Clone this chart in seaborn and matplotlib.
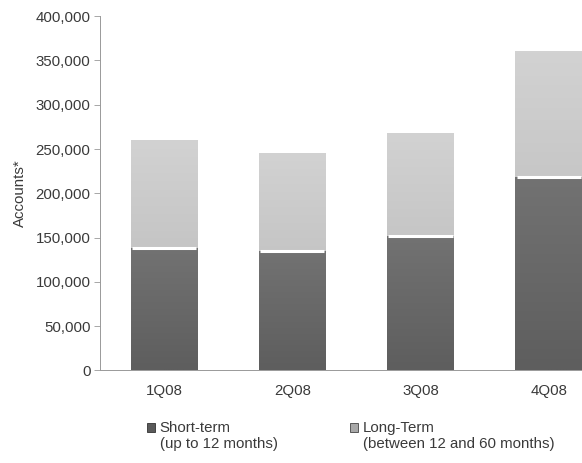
import numpy as np
import pandas as pd
import seaborn as sns
import matplotlib.pyplot as plt
from matplotlib.patches import Patch
from matplotlib.colors import LinearSegmentedColormap

# values
quarters = ['1Q08', '2Q08', '3Q08', '4Q08']
short_term = [138000, 135000, 152000, 218000]
long_term = [122000, 111000, 116000, 143000]
yticks = [0, 50000, 100000, 150000, 200000, 250000, 300000, 350000, 400000]
legend_main = ['Short-term', 'Long-Term']
legend_sub = ['(up to 12 months)', '(between 12 and 60 months)']

df = pd.DataFrame({'quarter': quarters, 'short': short_term, 'long': long_term})
df['total'] = df['short'] + df['long']

sns.set_style('white')
plt.rcParams['font.family'] = ['Liberation Sans', 'DejaVu Sans']
txt = '#3a3a3a'
fs = 10.8

fig = plt.figure(figsize=(5.82, 4.63), dpi=100)
ax = fig.add_axes([0.172, 0.2, 0.828, 0.765])

sns.barplot(data=df, x='quarter', y='total', color='#bbbbbb', width=0.52,
            saturation=1, ax=ax)
sns.barplot(data=df, x='quarter', y='short', color='#6a6a6a', width=0.52,
            saturation=1, ax=ax)

# gradient fill, clipped to each bar
cm_long = LinearSegmentedColormap.from_list('l', ['#8c8c8c', '#c4c4c4', '#d2d2d2'])
cm_short = LinearSegmentedColormap.from_list('s', ['#5e5e5e', '#727272'])
n = len(quarters)
for i, p in enumerate(ax.patches):
    x0, y0 = p.get_x(), p.get_y()
    w, h = p.get_width(), p.get_height()
    grad = np.linspace(0, 1, 100).reshape(-1, 1)
    cmap = cm_long if i < n else cm_short
    im = ax.imshow(grad, cmap=cmap, origin='lower', aspect='auto',
                   extent=(x0, x0 + w, y0, y0 + h), zorder=p.get_zorder() + 0.1)
    im.set_clip_path(p)

xs = np.arange(n)
ax.hlines(df['short'], xs - 0.25, xs + 0.25, color='white', lw=2.2, zorder=5)

ax.set_xlim(-0.5, 3.26)
ax.set_ylim(0, 400000)
ax.set_yticks(yticks)
ax.set_yticklabels([f'{v:,}' for v in yticks])
ax.set_ylabel('Accounts*', color=txt, fontsize=fs, labelpad=6)
ax.set_xlabel('')
ax.tick_params(axis='y', left=True, length=4, width=0.6, color='#999999',
               labelsize=fs, labelcolor=txt, pad=3)
ax.tick_params(axis='x', bottom=False, labelsize=fs, labelcolor=txt, pad=6)

for s in ['top', 'right']:
    ax.spines[s].set_visible(False)
for s in ['left', 'bottom']:
    ax.spines[s].set_color('#999999')
    ax.spines[s].set_linewidth(0.7)
    ax.spines[s].set_linestyle((0, (1, 1)))

# legend: marker beside first line, second line indented under the text
handles = [Patch(facecolor='#5a5a5a', edgecolor='#333333', lw=0.6),
           Patch(facecolor='#a8a8a8', edgecolor='#444444', lw=0.6)]
legs = []
for h, lab, xpos in zip(handles, legend_main, [0.2526, 0.601]):
    legs.append(fig.legend([h], [lab], loc='upper left', bbox_to_anchor=(xpos, 0.09),
                           frameon=False, fontsize=fs, labelcolor=txt,
                           borderpad=0, borderaxespad=0, handlelength=0.55,
                           handleheight=0.55, handletextpad=0.3))
fig.canvas.draw()
inv = fig.transFigure.inverted()
for leg, sub in zip(legs, legend_sub):
    bb = leg.get_texts()[0].get_window_extent()
    fx, fy = inv.transform((bb.x0, bb.y0))
    fig.text(fx, fy - 0.003, sub, ha='left', va='top', fontsize=fs, color=txt)

fig.savefig('out.png', dpi=100)
